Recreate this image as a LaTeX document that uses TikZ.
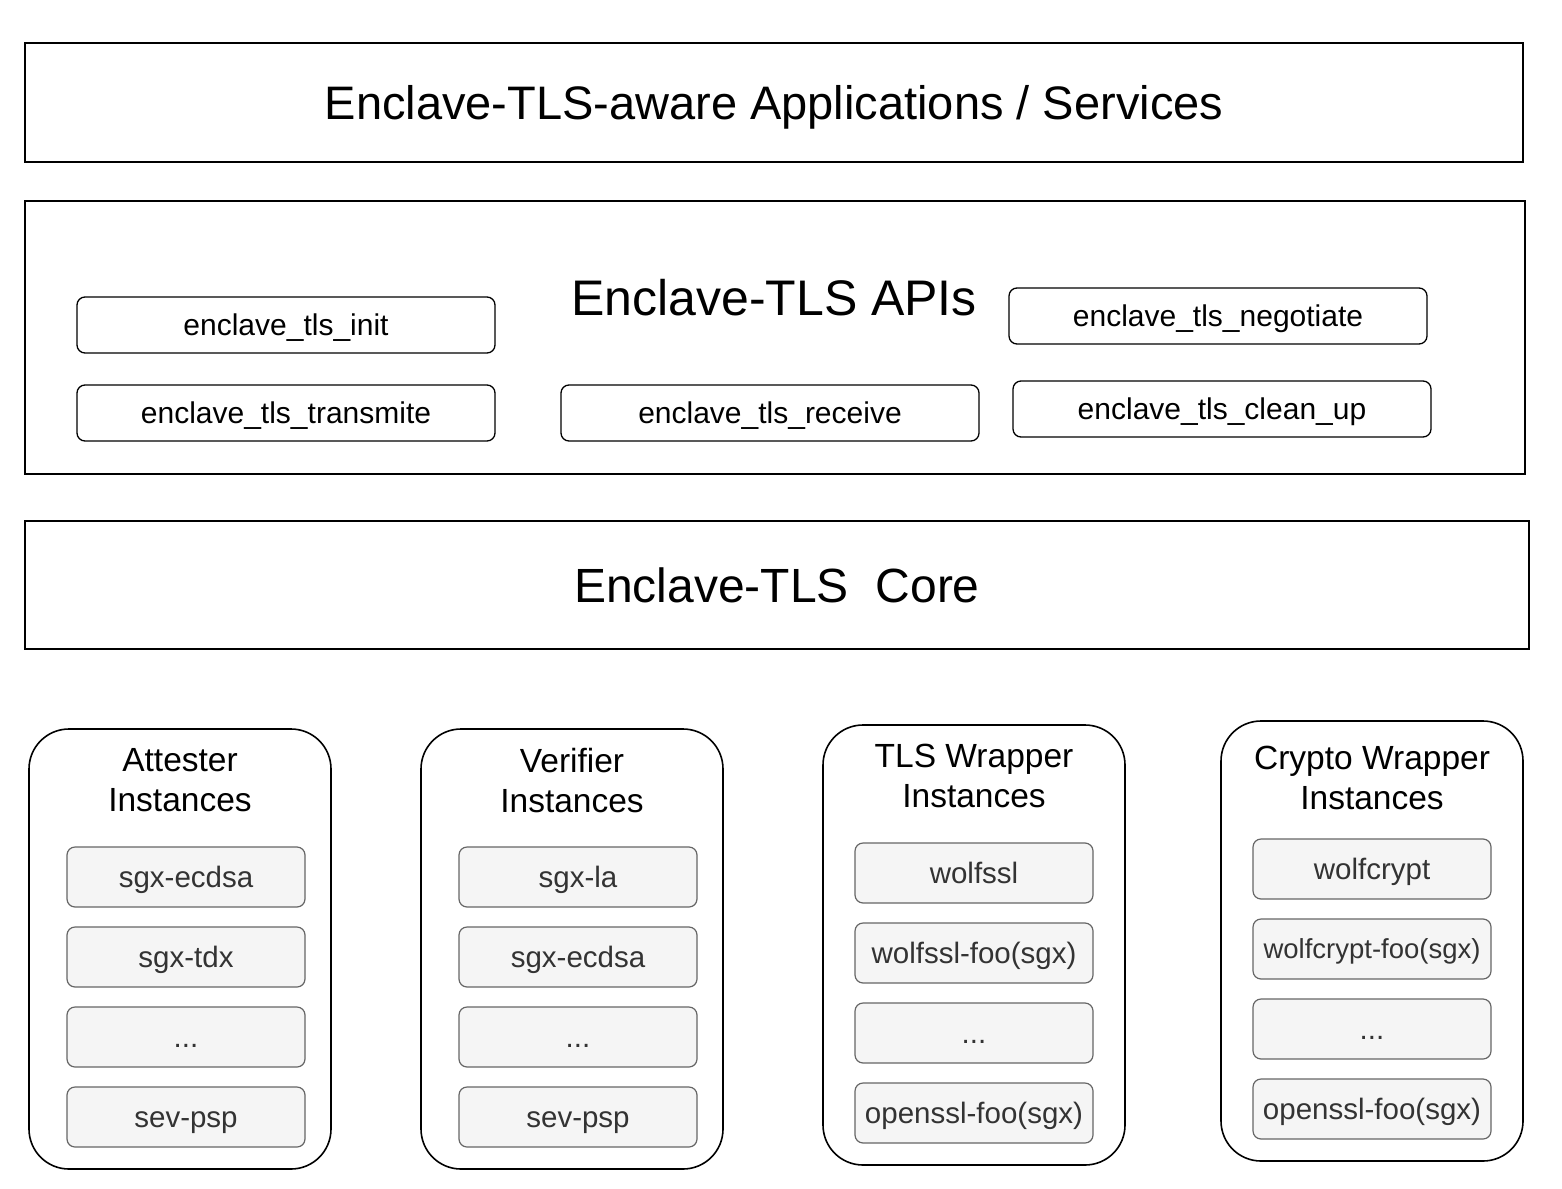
\documentclass[tikz,border=0pt]{standalone}
\usepackage{fontspec}
\setmainfont{Liberation Sans}
\usetikzlibrary{positioning}

\definecolor{itemfill}{HTML}{F5F5F5}
\definecolor{itemdraw}{HTML}{666666}
\definecolor{itemtext}{HTML}{333333}

\begin{document}
\begin{tikzpicture}[x=1pt,y=-1pt,node distance=18.8pt]
	  \tikzstyle{layer}=[rectangle,draw=black,line width=1.6pt,inner sep=0pt,text depth=0pt]
	  \tikzstyle{apibox}=[rectangle,draw=black,line width=1.3pt,rounded corners=8pt,minimum width=418pt,minimum height=56pt,text height=21.6pt,text depth=0pt,font=\fontsize{30}{34}\selectfont]
	  \tikzstyle{group}=[rectangle,draw=black,line width=1.6pt,rounded corners=40pt,minimum width=302pt,minimum height=440pt]
	  \tikzstyle{grouptitle}=[align=center,inner sep=0pt,font=\fontsize{33.5}{40}\selectfont]
	  \tikzstyle{item}=[rectangle,draw=itemdraw,fill=itemfill,text=itemtext,line width=1.2pt,rounded corners=8pt,minimum width=238pt,minimum height=60pt,text height=21.2pt,text depth=0pt,font=\fontsize{29.5}{33}\selectfont]

	  \useasboundingbox (0,0) rectangle (1562,1188);

	  % layers
	  \node[layer,minimum width=1498pt,minimum height=119pt,text height=33.8pt,font=\fontsize{47}{50}\selectfont] (apps) at (774,102.5) {Enclave-TLS-aware Applications / Services};
	  \node[layer,minimum width=1500pt,minimum height=273pt] (apis) at (775,337.5) {};
	  \node[inner sep=0pt,text height=36pt,text depth=0pt,font=\fontsize{50}{54}\selectfont] (apititle) at (774,297) {Enclave-TLS APIs};
	  \node[layer,minimum width=1504pt,minimum height=128pt,text height=34.6pt,font=\fontsize{48}{52}\selectfont] (core) at (777,585) {Enclave-TLS\ \ Core};

	  % api functions
	  \node[apibox] (init) at (286,325) {enclave\_tls\_init};
	  \node[apibox] (negotiate) at (1218,316) {enclave\_tls\_negotiate};
	  \node[apibox] (transmite) at (286,413) {enclave\_tls\_transmite};
	  \node[apibox] (receive) at (770,413) {enclave\_tls\_receive};
	  \node[apibox] (cleanup) at (1222,409) {enclave\_tls\_clean\_up};

	  % instance groups
	  \node[group] (attester) at (180,949) {};
	  \node[grouptitle] (attestertitle) at ([yshift=-52pt]attester.north) {Attester\\Instances};
	  \node[item] (att1) at (186,877) {sgx-ecdsa};
	  \node[item] (att2) [below=of att1] {sgx-tdx};
	  \node[item] (att3) [below=of att2] {...};
	  \node[item] (att4) [below=of att3] {sev-psp};

	  \node[group] (verifier) at (572,949) {};
	  \node[grouptitle] (verifiertitle) at ([yshift=-52pt]verifier.north) {Verifier\\Instances};
	  \node[item] (ver1) at (578,877) {sgx-la};
	  \node[item] (ver2) [below=of ver1] {sgx-ecdsa};
	  \node[item] (ver3) [below=of ver2] {...};
	  \node[item] (ver4) [below=of ver3] {sev-psp};

	  \node[group] (tlswrapper) at (974,945) {};
	  \node[grouptitle] (tlstitle) at ([yshift=-52pt]tlswrapper.north) {TLS Wrapper\\Instances};
	  \node[item] (tls1) at (974,873) {wolfssl};
	  \node[item] (tls2) [below=of tls1] {wolfssl-foo(sgx)};
	  \node[item] (tls3) [below=of tls2] {...};
	  \node[item] (tls4) [below=of tls3] {openssl-foo(sgx)};

	  \node[group] (cryptowrapper) at (1372,941) {};
	  \node[grouptitle] (cryptotitle) at ([yshift=-58pt]cryptowrapper.north) {Crypto Wrapper\\Instances};
	  \node[item] (cry1) at (1372,869) {wolfcrypt};
	  \node[item,text height=19.8pt,font=\fontsize{27.5}{31}\selectfont] (cry2) [below=of cry1] {wolfcrypt-foo(sgx)};
	  \node[item] (cry3) [below=of cry2] {...};
	  \node[item] (cry4) [below=of cry3] {openssl-foo(sgx)};
\end{tikzpicture}
\end{document}
